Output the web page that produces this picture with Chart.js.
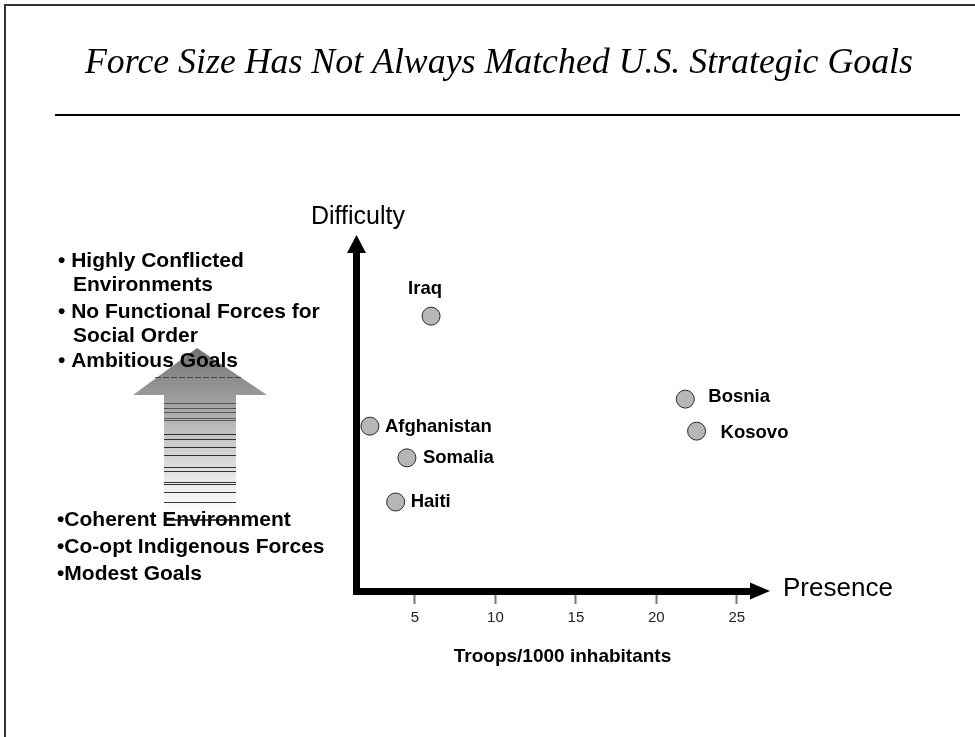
<!DOCTYPE html>
<html><head><meta charset="utf-8">
<script src="https://cdn.jsdelivr.net/npm/chart.js@4"></script>
<style>html,body{margin:0;padding:0;background:#fff;overflow:hidden}canvas{display:block}</style>
</head><body>
<canvas id="c" width="975" height="737"></canvas>
<script>
// ---- data ----
const countries = ['Iraq', 'Afghanistan', 'Somalia', 'Haiti', 'Bosnia', 'Kosovo'];
const troopsPer1000 = [6.0, 2.2, 4.5, 3.8, 21.8, 22.5];
const difficulty = [7.72, 4.63, 3.74, 2.5, 5.39, 4.49];
const xTicks = [5, 10, 15, 20, 25];
const xAxisTitle = 'Troops/1000 inhabitants';
const yAxisName = 'Difficulty';
const xAxisName = 'Presence';
const titleText = 'Force Size Has Not Always Matched U.S. Strategic Goals';
const highList = ['• Highly Conflicted', 'Environments', '• No Functional Forces for', 'Social Order', '• Ambitious Goals'];
const lowList = ['•Coherent Environment', '•Co-opt Indigenous Forces', '•Modest Goals'];

// ---- styles / placement ----
const SANS = '"Liberation Sans", Arial, sans-serif';
const labelPlace = {
  Iraq: {align: 'center', dx: -6, dy: -27},
  Afghanistan: {align: 'left', dx: 15, dy: 1},
  Somalia: {align: 'left', dx: 16, dy: 0},
  Haiti: {align: 'left', dx: 15, dy: 0},
  Bosnia: {align: 'left', dx: 23, dy: -2},
  Kosovo: {align: 'left', dx: 24, dy: 2}
};
const highLayout = [[58, 267], [73, 291], [58, 318], [73, 342], [58, 367]];
const lowLayout = [[57, 526], [57, 553], [57, 580]];
const bandLines = [403, 408, 412, 418, 420, 434, 439, 447, 455, 467, 471, 482, 484, 492, 502];

const decor = {
  id: 'decor',
  beforeDraw(chart) {
    const ctx = chart.ctx;
    ctx.save();
    ctx.fillStyle = '#fff';
    ctx.fillRect(0, 0, chart.width, chart.height);
    // frame
    ctx.strokeStyle = '#333';
    ctx.lineWidth = 2;
    ctx.beginPath();
    ctx.moveTo(5, 737); ctx.lineTo(5, 5); ctx.lineTo(975, 5);
    ctx.stroke();
    // title
    ctx.fillStyle = '#000';
    ctx.font = 'italic 35px "Liberation Serif", "Times New Roman", serif';
    ctx.textBaseline = 'alphabetic';
    ctx.textAlign = 'left';
    const w = ctx.measureText(titleText).width;
    ctx.save();
    ctx.translate(85, 73);
    ctx.scale(828 / w, 1);
    ctx.fillText(titleText, 0, 0);
    ctx.restore();
    // rule under title
    ctx.strokeStyle = '#000';
    ctx.lineWidth = 2;
    ctx.beginPath(); ctx.moveTo(55, 115); ctx.lineTo(960, 115); ctx.stroke();
    // big gradient arrow
    const g = ctx.createLinearGradient(0, 348, 0, 518);
    g.addColorStop(0, '#737373');
    g.addColorStop(0.28, '#9a9a9a');
    g.addColorStop(0.55, '#c9c9c9');
    g.addColorStop(0.8, '#ececec');
    g.addColorStop(1, '#ffffff');
    ctx.fillStyle = g;
    ctx.beginPath();
    ctx.moveTo(197, 348); ctx.lineTo(267, 395); ctx.lineTo(236, 395);
    ctx.lineTo(236, 520); ctx.lineTo(164, 520); ctx.lineTo(164, 395);
    ctx.lineTo(133, 395); ctx.closePath();
    ctx.fill();
    ctx.lineWidth = 1;
    ctx.strokeStyle = 'rgba(40,40,40,0.75)';
    ctx.setLineDash([6, 2]);
    ctx.beginPath(); ctx.moveTo(155, 377.5); ctx.lineTo(241, 377.5); ctx.stroke();
    ctx.setLineDash([]);
    bandLines.forEach((y, i) => {
      ctx.strokeStyle = i < 5 ? 'rgba(50,50,50,0.7)' : 'rgba(20,20,20,0.85)';
      ctx.beginPath(); ctx.moveTo(164, y + 0.5); ctx.lineTo(236, y + 0.5); ctx.stroke();
    });
    // left bullet texts
    ctx.fillStyle = '#000';
    ctx.font = 'bold 21px ' + SANS;
    ctx.textBaseline = 'alphabetic';
    highList.forEach((t, i) => ctx.fillText(t, highLayout[i][0], highLayout[i][1]));
    lowList.forEach((t, i) => ctx.fillText(t, lowLayout[i][0], lowLayout[i][1]));
    ctx.strokeStyle = '#111';
    ctx.lineWidth = 1.5;
    ctx.beginPath(); ctx.moveTo(164, 520); ctx.lineTo(236, 520); ctx.stroke();
    ctx.restore();
  },
  afterDatasetsDraw(chart) {
    const ctx = chart.ctx;
    const a = chart.chartArea;
    ctx.save();
    // axes (thick arrows)
    const xl = a.left + 0.5, yb = a.bottom + 0.5;
    ctx.strokeStyle = '#000';
    ctx.fillStyle = '#000';
    ctx.lineWidth = 7;
    ctx.beginPath(); ctx.moveTo(xl, yb + 3.5); ctx.lineTo(xl, a.top + 17); ctx.stroke();
    ctx.beginPath(); ctx.moveTo(xl - 3.5, yb); ctx.lineTo(a.right - 19, yb); ctx.stroke();
    ctx.beginPath();
    ctx.moveTo(xl, a.top); ctx.lineTo(xl + 9.5, a.top + 18); ctx.lineTo(xl - 9.5, a.top + 18); ctx.closePath(); ctx.fill();
    ctx.beginPath();
    ctx.moveTo(a.right + 1, yb - 0.5); ctx.lineTo(a.right - 19, yb - 9); ctx.lineTo(a.right - 19, yb + 8); ctx.closePath(); ctx.fill();
    // axis names
    ctx.font = '25px ' + SANS;
    ctx.textBaseline = 'alphabetic';
    ctx.textAlign = 'left';
    ctx.fillText(yAxisName, a.left - 45, a.top - 11);
    ctx.font = '26px ' + SANS;
    ctx.fillText(xAxisName, a.right + 14, a.bottom + 5);
    // point labels
    ctx.font = 'bold 18.5px ' + SANS;
    ctx.textBaseline = 'middle';
    const meta = chart.getDatasetMeta(0);
    meta.data.forEach((pt, i) => {
      const p = labelPlace[countries[i]];
      ctx.textAlign = p.align;
      ctx.fillText(countries[i], pt.x + p.dx, pt.y + p.dy);
    });
    ctx.restore();
  }
};

new Chart(document.getElementById('c'), {
  type: 'scatter',
  data: {
    datasets: [{
      label: 'Operations',
      data: troopsPer1000.map((x, i) => ({x: x, y: difficulty[i]})),
      pointRadius: 9,
      pointHoverRadius: 9,
      backgroundColor: '#b6b6b6',
      borderColor: '#2a2a2a',
      borderWidth: 1
    }]
  },
  options: {
    responsive: false,
    animation: false,
    devicePixelRatio: 1,
    events: [],
    layout: {padding: {left: 356, right: 206, top: 235, bottom: 69}},
    plugins: {legend: {display: false}, tooltip: {enabled: false}},
    scales: {
      x: {
        type: 'linear',
        min: 1.335,
        max: 27,
        afterBuildTicks(scale) { scale.ticks = xTicks.map(v => ({value: v})); },
        afterFit(scale) { scale.height = 77; },
        border: {display: false},
        grid: {display: true, drawOnChartArea: false, drawTicks: true, tickLength: 13, tickWidth: 2, tickColor: '#777'},
        ticks: {padding: 5, color: '#222', font: {family: SANS, size: 15}, maxRotation: 0, autoSkip: false},
        title: {display: true, text: xAxisTitle, color: '#000', padding: 0, font: {family: SANS, size: 19, weight: 'bold'}}
      },
      y: {
        type: 'linear',
        min: 0,
        max: 10,
        display: false
      }
    }
  },
  plugins: [decor]
});
</script>
</body></html>
